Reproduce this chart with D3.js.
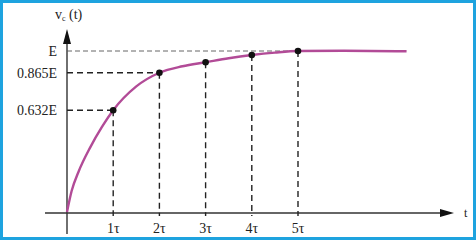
<!DOCTYPE html>
<html>
<head>
<meta charset="utf-8">
<script src="https://cdn.jsdelivr.net/npm/d3@7"></script>
<style>
  html, body { margin: 0; padding: 0; background: #fff; }
  text { font-family: "Liberation Serif", "DejaVu Serif", serif; fill: #222; }
</style>
</head>
<body>
<div id="chart"></div>
<script>
// time constants marked on the t axis, and the charge level drawn at each
const tauSteps = [1, 2, 3, 4, 5];
const tauLabels = ['1τ', '2τ', '3τ', '4τ', '5τ'];
const tauLevels = [0.632, 0.865, 0.93, 0.975, 1.0];
// levels labelled on the vertical axis
const levelValues = [1, 0.865, 0.632];
const levelLabels = ['E', '0.865E', '0.632E'];
// the charging curve (t in τ, v in E)
const curveT = [0, 0.1, 0.25, 0.5, 0.75, 1, 1.5, 2, 2.5, 3, 3.5, 4, 4.5, 5, 6, 7.35];
const curveV = [0, 0.13, 0.25, 0.40, 0.525, 0.632, 0.78, 0.865, 0.905, 0.93, 0.955, 0.975, 0.99, 1.0, 1.002, 0.998];

const width = 476, height = 241;
const x0 = 67, yBase = 213;

const svg = d3.select('#chart').append('svg')
  .attr('width', width)
  .attr('height', height);

svg.append('rect')
  .attr('x', 1.5).attr('y', 1.5)
  .attr('width', width - 3).attr('height', height - 4)
  .attr('fill', '#fff')
  .attr('stroke', '#1ea3df')
  .attr('stroke-width', 3);

const x = d3.scaleLinear().domain([0, 5]).range([x0, 298]);
const y = d3.scaleLinear().domain([0, 1]).range([yBase - 1, 51]);

// axes with arrow heads
svg.append('line')
  .attr('x1', 45).attr('x2', 444)
  .attr('y1', yBase).attr('y2', yBase)
  .attr('stroke', '#333').attr('stroke-width', 1.4);
svg.append('path')
  .attr('d', `M454,${yBase} L440,${yBase - 4} L440,${yBase + 4} Z`)
  .attr('fill', '#111');
svg.append('line')
  .attr('x1', x0).attr('x2', x0)
  .attr('y1', 234).attr('y2', 40)
  .attr('stroke', '#333').attr('stroke-width', 1.4);
svg.append('path')
  .attr('d', `M${x0},29 L${x0 - 4},44 L${x0 + 4},44 Z`)
  .attr('fill', '#111');

// dashed guides
levelValues.forEach(function (v) {
  let tEnd = v === 1 ? 5 : tauSteps[tauLevels.indexOf(v)];
  svg.append('line')
    .attr('x1', x0).attr('x2', x(tEnd))
    .attr('y1', y(v)).attr('y2', y(v))
    .attr('stroke', v === 1 ? '#555' : '#222')
    .attr('stroke-width', v === 1 ? 0.9 : 1.4)
    .attr('stroke-dasharray', v === 1 ? '5,3' : '6,4');
});
tauSteps.forEach(function (t, i) {
  svg.append('line')
    .attr('x1', x(t)).attr('x2', x(t))
    .attr('y1', y(tauLevels[i])).attr('y2', yBase + 3)
    .attr('stroke', '#222').attr('stroke-width', 1.4)
    .attr('stroke-dasharray', '6,4');
});

// curve
const line = d3.line()
  .x(function (d) { return x(d[0]); })
  .y(function (d) { return y(d[1]); })
  .curve(d3.curveMonotoneX);
svg.append('path')
  .datum(curveT.map(function (t, i) { return [t, curveV[i]]; }))
  .attr('d', line)
  .attr('fill', 'none')
  .attr('stroke', '#b24b97')
  .attr('stroke-width', 2.4);

// dots
svg.selectAll('circle.pt')
  .data(tauSteps)
  .enter()
  .append('circle')
  .attr('class', 'pt')
  .attr('cx', function (d) { return x(d); })
  .attr('cy', function (d, i) { return y(tauLevels[i]); })
  .attr('r', 3.3)
  .attr('fill', '#111');

// labels
svg.selectAll('text.lvl')
  .data(levelValues)
  .enter()
  .append('text')
  .attr('class', 'lvl')
  .attr('x', 57)
  .attr('y', function (d) { return y(d) + 5; })
  .attr('text-anchor', 'end')
  .attr('font-size', 14)
  .text(function (d, i) { return levelLabels[i]; });

svg.selectAll('text.tau')
  .data(tauSteps)
  .enter()
  .append('text')
  .attr('class', 'tau')
  .attr('x', function (d) { return x(d); })
  .attr('y', 233)
  .attr('text-anchor', 'middle')
  .attr('font-size', 14)
  .text(function (d, i) { return tauLabels[i]; });

svg.append('text')
  .attr('x', 464).attr('y', 217)
  .attr('font-size', 12)
  .text('t');

const vLabel = svg.append('text')
  .attr('x', 55).attr('y', 19)
  .attr('font-size', 14);
vLabel.append('tspan').text('v');
vLabel.append('tspan').attr('font-size', 8).attr('dy', 2).text('c');
vLabel.append('tspan').attr('dy', -2).text(' (t)');
</script>
</body>
</html>
